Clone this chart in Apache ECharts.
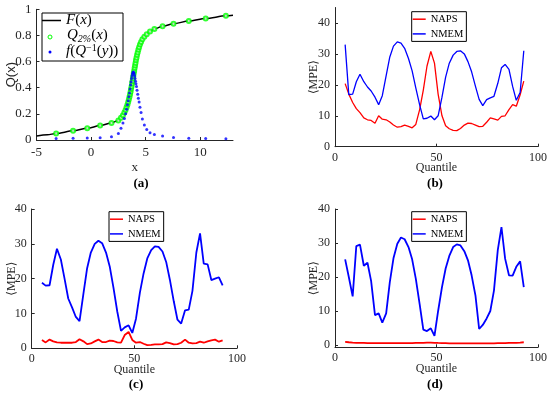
<!DOCTYPE html>
<html><head><meta charset="utf-8">
<script src="https://cdn.jsdelivr.net/npm/echarts@6/dist/echarts.min.js"></script>
<style>html,body{margin:0;padding:0;background:#fff}#c{width:550px;height:396px}</style>
</head><body><div id="c"></div><script>
// ---------- Panel (a) data ----------
const fLineX = [-5,-4,-3.2,-1.65,-0.35,0.83,1.87,2.5,2.74,2.92,3.05,3.16,3.25,3.33,3.40,3.46,3.52,3.57,3.62,3.66,3.71,3.75,3.79,3.83,3.87,3.91,3.95,3.99,4.03,4.07,4.11,4.16,4.21,4.27,4.33,4.4,4.48,4.58,4.7,4.88,5.1,5.4,5.8,6.55,7.55,8.95,10.5,12.35,13];
const fLineY = [0.03,0.04,0.05,0.07,0.09,0.11,0.13,0.15,0.17,0.19,0.21,0.23,0.25,0.27,0.29,0.31,0.33,0.35,0.37,0.39,0.41,0.43,0.45,0.47,0.49,0.51,0.53,0.55,0.57,0.59,0.61,0.63,0.65,0.67,0.69,0.71,0.73,0.75,0.77,0.79,0.81,0.83,0.85,0.87,0.89,0.91,0.93,0.95,0.955];
const quantX = [-3.2,-1.65,-0.35,0.83,1.87,2.5,2.74,2.92,3.05,3.16,3.25,3.33,3.40,3.46,3.52,3.57,3.62,3.66,3.71,3.75,3.79,3.83,3.87,3.91,3.95,3.99,4.03,4.07,4.11,4.16,4.21,4.27,4.33,4.4,4.48,4.58,4.7,4.88,5.1,5.4,5.8,6.55,7.55,8.95,10.5,12.35];
const quantP = [0.05,0.07,0.09,0.11,0.13,0.15,0.17,0.19,0.21,0.23,0.25,0.27,0.29,0.31,0.33,0.35,0.37,0.39,0.41,0.43,0.45,0.47,0.49,0.51,0.53,0.55,0.57,0.59,0.61,0.63,0.65,0.67,0.69,0.71,0.73,0.75,0.77,0.79,0.81,0.83,0.85,0.87,0.89,0.91,0.93,0.95];
const densF = [0.011,0.013,0.015,0.018,0.025,0.05,0.09,0.13,0.165,0.2,0.235,0.27,0.3,0.33,0.36,0.39,0.42,0.445,0.47,0.49,0.505,0.515,0.52,0.515,0.505,0.49,0.47,0.45,0.43,0.41,0.38,0.35,0.32,0.29,0.25,0.21,0.16,0.115,0.08,0.055,0.042,0.031,0.02,0.014,0.012,0.009];
const aXTicks = [-5,0,5,10];
const aYTicks = [0,0.2,0.4,0.6,0.8,1];

// ---------- Panels (b)-(d) data ----------
const quantiles = [5,6.8,8.7,10.5,12.3,14.2,16,17.8,19.7,21.5,23.3,25.2,27,28.8,30.7,32.5,34.3,36.2,38,39.8,41.7,43.5,45.3,47.2,49,50.8,52.7,54.5,56.3,58.2,60,61.8,63.7,65.5,67.3,69.2,71,72.8,74.7,76.5,78.3,80.2,82,83.8,85.7,87.5,89.3,91.2,93];
const napsB = [20.4,17,14.3,12.3,11,9.3,8.7,8.5,7.6,10,8.9,8.7,8,7,6.3,6.5,7,6.6,6.1,7.2,12,18.3,26,30.8,27,17,10,6.8,5.8,5.3,5.2,5.9,7,7.6,7.5,7,6.5,6.6,7.9,9.3,9,8.6,9.8,10,12,13.6,13.1,16.8,21.2];
const nmemB = [33,16.8,17,21,23.4,21,19.3,18,16,13.6,16.5,23,29,32.5,33.9,33.5,31.8,28.5,24.5,19,13.5,9,9.2,9.9,8.7,10,16,22.5,27,29.6,30.8,31,30,27.5,24.2,19.5,15.3,13.3,15.2,15.8,16.3,20.5,25.5,26.6,25,19.5,15,17.5,31];
const napsC = [2.4,1.7,2.5,2.0,1.7,1.6,1.6,1.6,1.6,1.8,2.6,2.0,1.2,1.4,2.0,2.5,1.8,1.8,2.2,2.1,1.7,1.6,3.8,4.7,2.4,1.6,1.8,1.3,0.9,1.0,1.1,1.1,1.2,1.7,1.5,1.1,1.2,1.6,2.5,1.6,1.4,1.5,1.9,1.6,2.0,2.3,2.5,1.9,2.3];
const nmemC = [18.8,18,18.1,24,28.6,25.5,20,14.3,11.7,9,7.8,15.7,23,27.5,30,30.9,30.2,27.5,23.5,17.5,10.5,5,6,6.6,4.4,8.5,16,21.5,25.8,28.2,29.3,29.1,27.8,24.8,19.7,13.5,8.2,7.1,10.9,11.1,16.5,27.5,33,24.3,24.1,19.6,20,20.4,18.1];
const napsD = [0.9,0.8,0.7,0.65,0.6,0.6,0.55,0.55,0.55,0.55,0.55,0.55,0.55,0.55,0.55,0.55,0.55,0.55,0.55,0.6,0.6,0.65,0.7,0.7,0.65,0.6,0.55,0.55,0.5,0.5,0.5,0.5,0.5,0.5,0.5,0.5,0.5,0.5,0.5,0.5,0.5,0.55,0.55,0.55,0.6,0.6,0.65,0.7,0.8];
const nmemD = [25.2,20,14.3,29.1,29.5,23.3,24.2,18.8,8.8,9.3,6.6,9.3,18.5,25.5,29.8,31.6,31.1,28.8,25.2,19.5,12,4.5,4.1,4.9,2.7,10,17,22.5,26.2,28.8,29.6,29.3,27.6,24.9,20.5,14.5,4.7,5.9,7.8,10,16,28,34.7,25.4,20.5,20.4,23,24.6,17];
const qTicks = [0,50,100];
const mpeTicks = [0,10,20,30,40];

// ---------- chart ----------
const AX = '#262626';
const SERIF = '"Liberation Serif","Times New Roman","DejaVu Serif",serif';
const pairs = (xs, ys) => xs.map((x, i) => [x, ys[i]]);
const chart = echarts.init(document.getElementById('c'), null, {renderer: 'canvas'});

function axis(gi, min, max, ticks, name, nameGap, fs, nameFont, labelMargin) {
  return {
    type: 'value', gridIndex: gi, min: min, max: max,
    name: name, nameLocation: 'middle', nameGap: nameGap, nameMoveOverlap: false,
    nameTextStyle: {fontFamily: nameFont || SERIF, fontSize: fs, color: AX},
    axisLine: {show: true, onZero: false, lineStyle: {color: AX, width: 1}},
    axisTick: {show: true, inside: true, length: 3, customValues: ticks, lineStyle: {color: AX, width: 1}},
    axisLabel: {customValues: ticks, margin: labelMargin, fontFamily: SERIF, fontSize: fs, color: AX},
    splitLine: {show: false}
  };
}

const grids = [
  {left: 36.5, top: 9.3, width: 196.5, height: 130.7},
  {left: 335, top: 7.5, width: 205, height: 139.2},
  {left: 31.7, top: 209, width: 205.3, height: 139.3},
  {left: 335, top: 209, width: 205, height: 138.3}
];

const xAxes = [
  axis(0, -5, 13, aXTicks, 'x', 21, 13, SERIF, 6),
  axis(1, 0, 100, qTicks, 'Quantile', 15.5, 12, SERIF, 5),
  axis(2, 0, 100, qTicks, 'Quantile', 15.5, 12, SERIF, 5),
  axis(3, 0, 100, qTicks, 'Quantile', 15.5, 12, SERIF, 5)
];
const yAxes = [
  axis(0, 0, 1, aYTicks, 'Q(x)', 19, 13, '"Liberation Sans",Arial,sans-serif', 5),
  axis(1, 0, 45, mpeTicks, '\u27E8MPE\u27E9', 15, 12, SERIF, 5),
  axis(2, 0, 40, mpeTicks, '\u27E8MPE\u27E9', 13.5, 12, SERIF, 5),
  axis(3, -0.68, 40, mpeTicks, '\u27E8MPE\u27E9', 15, 12, SERIF, 5)
];

const lineSeries = (name, gi, ys, color, w) => ({
  name: name, type: 'line', xAxisIndex: gi, yAxisIndex: gi,
  data: pairs(quantiles, ys), symbol: 'none', showSymbol: false,
  lineStyle: {color: color, width: w}, itemStyle: {color: color}, animation: false
});

const series = [
  {name: 'F(x)', type: 'line', xAxisIndex: 0, yAxisIndex: 0, data: pairs(fLineX, fLineY),
   symbol: 'none', showSymbol: false, smooth: 0.3, smoothMonotone: 'x',
   lineStyle: {color: '#000', width: 1.5}, itemStyle: {color: '#000'}, z: 2, animation: false},
  {name: 'Q2%(x)', type: 'scatter', xAxisIndex: 0, yAxisIndex: 0, data: pairs(quantX, quantP),
   symbol: 'emptyCircle', symbolSize: 4,
   itemStyle: {color: '#00ff00', borderColor: '#00ff00', borderWidth: 1}, z: 3, animation: false},
  {name: 'f(Q^-1(y))', type: 'scatter', xAxisIndex: 0, yAxisIndex: 0, data: pairs(quantX, densF),
   symbol: 'circle', symbolSize: 3, itemStyle: {color: '#0000ff'}, z: 4, animation: false},
  lineSeries('NAPS', 1, napsB, '#ff0000', 1.3),
  lineSeries('NMEM', 1, nmemB, '#0000ff', 1.3),
  lineSeries('NAPS', 2, napsC, '#ff0000', 1.8),
  lineSeries('NMEM', 2, nmemC, '#0000ff', 1.8),
  lineSeries('NAPS', 3, napsD, '#ff0000', 1.8),
  lineSeries('NMEM', 3, nmemD, '#0000ff', 1.8)
];

const richA = {
  it: {fontFamily: SERIF, fontStyle: 'italic', fontSize: 15, color: '#000'},
  rm: {fontFamily: SERIF, fontSize: 15, color: '#000'},
  sub: {fontFamily: SERIF, fontStyle: 'italic', fontSize: 10, color: '#000', padding: [7, 0, 0, 0]},
  sup: {fontFamily: SERIF, fontSize: 10, color: '#000', padding: [0, 0, 7, 0]}
};
const labelA = {
  'F(x)': '{it|F}{rm|(}{it|x}{rm|)}',
  'Q2%(x)': '{it|Q}{sub|2%}{rm|(}{it|x}{rm|)}',
  'f(Q^-1(y))': '{it|f}{rm|(}{it|Q}{sup|\u22121}{rm|(}{it|y}{rm|))}'
};
// scatter legend icons are hidden in the legend and drawn as graphic symbols in the sample slot
const legA = (name, top, hideIcon) => ({
  data: [hideIcon ? {name: name, itemStyle: {opacity: 0}} : name],
  orient: 'vertical', left: 42, top: top, itemWidth: 19, itemHeight: 1.5, icon: 'rect',
  padding: 0, selectedMode: false,
  formatter: n => labelA[n], textStyle: {rich: richA, fontSize: 15}
});
const legMPE = (left, top) => ({
  data: ['NAPS', 'NMEM'], orient: 'vertical', left: left, top: top, icon: 'rect',
  itemWidth: 13, itemHeight: 1.5, itemGap: 3.7, padding: [2, 3, 2, 1],
  borderColor: '#000', borderWidth: 1, backgroundColor: '#fff', selectedMode: false,
  textStyle: {fontFamily: SERIF, fontSize: 10.5, color: '#000', lineHeight: 11}
});
const caption = (t, x, y) => ({type: 'text', style: {text: t, fontFamily: SERIF, fontWeight: 'bold', fontSize: 13, fill: '#000', x: x, y: y, textAlign: 'center', textVerticalAlign: 'middle'}});

chart.setOption({
  animation: false,
  backgroundColor: '#fff',
  grid: grids,
  xAxis: xAxes,
  yAxis: yAxes,
  series: series,
  legend: [
    legA('F(x)', 13, false),
    legA('Q2%(x)', 28, true),
    legA('f(Q^-1(y))', 43, true)
  ].concat([
    legMPE(411.7, 11.7),
    legMPE(109, 211.7),
    legMPE(411.7, 211.7)
  ]),
  graphic: [
    {type: 'rect', shape: {x: 42, y: 13, width: 81, height: 48}, style: {fill: 'none', stroke: '#000', lineWidth: 1}, z: 100},
    {type: 'circle', shape: {cx: 50, cy: 37, r: 2}, style: {fill: 'none', stroke: '#00ff00', lineWidth: 1}, z: 100},
    {type: 'circle', shape: {cx: 50, cy: 52, r: 1.5}, style: {fill: '#0000ff'}, z: 100},
    caption('(a)', 141, 184),
    caption('(b)', 435, 184),
    caption('(c)', 136, 385),
    caption('(d)', 435, 385)
  ]
});
</script></body></html>
